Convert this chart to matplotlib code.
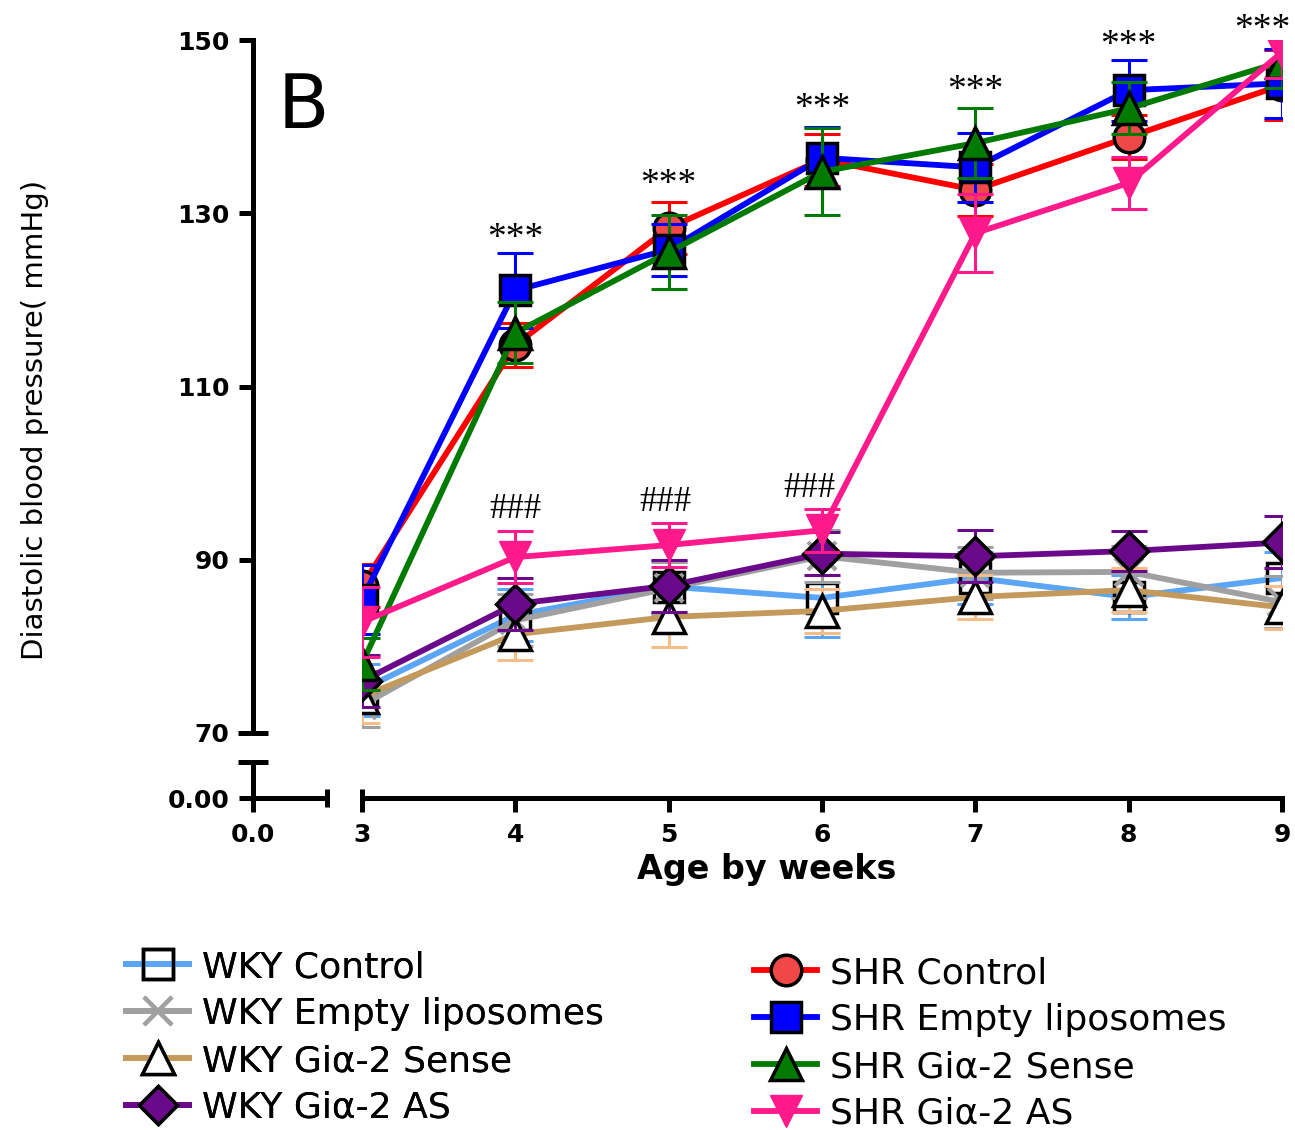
import matplotlib
matplotlib.use("Agg")
import matplotlib.pyplot as plt
from matplotlib.lines import Line2D

# Data
weeks = [3, 4, 5, 6, 7, 8, 9]

wky_control = [75.0, 83.6, 86.9, 85.6, 87.9, 85.7, 87.9]
wky_control_sem = [3.0, 3.0, 3.0, 4.5, 3.0, 2.5, 3.0]
wky_empty = [73.2, 83.0, 86.7, 90.4, 88.5, 88.6, 85.1]
wky_empty_sem = [2.5, 3.0, 3.0, 3.0, 3.0, 3.0, 3.0]
wky_sense = [74.2, 81.4, 83.4, 84.1, 85.7, 86.5, 84.5]
wky_sense_sem = [3.0, 3.0, 3.5, 2.5, 2.5, 2.5, 2.5]
wky_as = [76.0, 84.9, 87.0, 90.7, 90.4, 91.0, 92.0]
wky_as_sem = [3.0, 3.0, 3.0, 2.5, 3.0, 2.3, 3.0]

shr_control = [87.0, 114.8, 128.3, 136.2, 132.7, 138.8, 144.8]
shr_control_sem = [2.5, 2.5, 3.0, 3.0, 3.0, 2.5, 4.0]
shr_empty = [85.4, 121.1, 125.8, 136.4, 135.3, 144.2, 145.0]
shr_empty_sem = [4.0, 4.3, 3.0, 3.5, 4.0, 3.5, 4.0]
shr_sense = [78.0, 116.2, 125.5, 134.8, 138.1, 142.1, 147.5]
shr_sense_sem = [3.0, 3.5, 4.3, 5.0, 4.0, 3.0, 3.0]
shr_as = [82.8, 90.3, 91.7, 93.4, 127.7, 133.5, 148.6]
shr_as_sem = [4.0, 3.0, 2.5, 2.5, 4.5, 3.0, 3.0]

star_weeks = [4, 5, 6, 7, 8, 8.87]
star_y = [127.0, 133.3, 142.1, 144.1, 149.3, 151.2]
hash_weeks = [4, 4.98, 5.92]
hash_y = [95.8, 96.6, 98.2]

W, H = 1295, 1130


def px(x, y):
    return x / W, 1 - y / H


fig = plt.figure(figsize=(W / 100, H / 100), dpi=100)
ax = fig.add_axes([362 / W, 1 - 733 / H, (1282 - 362) / W, (733 - 40) / H])

series = [
    ("WKY Control", wky_control, wky_control_sem, "#5aa5f5", "#5aa5f5",
     dict(marker="s", ms=21, mfc="none", mec="k", mew=2.5)),
    ("WKY Empty liposomes", wky_empty, wky_empty_sem, "#a0a0a0", "#a0a0a0",
     dict(marker="x", ms=20, mec="#a0a0a0", mew=3)),
    ("WKY Gi\u03b1-2 Sense", wky_sense, wky_sense_sem, "#c49a5c", "#f7bd88",
     dict(marker="^", ms=23, mfc="white", mec="k", mew=2.5)),
    ("WKY Gi\u03b1-2 AS", wky_as, wky_as_sem, "#6a0a8a", "#6a0a8a",
     dict(marker="D", ms=19, mfc="#6a0a8a", mec="k", mew=2.5)),
    ("SHR Control", shr_control, shr_control_sem, "#ff0000", "#ff0000",
     dict(marker="o", ms=22, mfc="#f04848", mec="k", mew=2.5)),
    ("SHR Empty liposomes", shr_empty, shr_empty_sem, "#0000ff", "#0000ff",
     dict(marker="s", ms=21, mfc="#0000ff", mec="k", mew=2.5)),
    ("SHR Gi\u03b1-2 Sense", shr_sense, shr_sense_sem, "#007a00", "#007a00",
     dict(marker="^", ms=23, mfc="#007a00", mec="k", mew=2.5)),
    ("SHR Gi\u03b1-2 AS", shr_as, shr_as_sem, "#ff1a8c", "#ff1a8c",
     dict(marker="v", ms=23, mfc="#ff1a8c", mec="#ff1a8c", mew=1)),
]

handles = []
for i, (label, vals, sem, col, ecol, mk) in enumerate(series):
    ax.errorbar(weeks, vals, yerr=sem, fmt="none", ecolor=ecol, elinewidth=2.2,
                capsize=13, capthick=2.2, zorder=2 + i)
    h, = ax.plot(weeks, vals, color=col, lw=4.2, label=label, zorder=2 + i, **mk)
    handles.append(h)

ax.set_xlim(3, 9)
ax.set_ylim(70, 150)
ax.set_xticks(weeks)
ax.set_yticks([70, 90, 110, 130, 150])
for s in ["top", "right"]:
    ax.spines[s].set_visible(False)
ax.spines["left"].set_position(("outward", 109 * 0.72))
ax.spines["bottom"].set_position(("outward", 65 * 0.72))
for s in ["left", "bottom"]:
    ax.spines[s].set_linewidth(3.6)
ax.tick_params(axis="both", width=3.6, length=10, direction="out", labelsize=18)
ax.tick_params(axis="y", pad=7)
ax.tick_params(axis="x", pad=8)
for t in ax.get_xticklabels() + ax.get_yticklabels():
    t.set_fontweight("heavy")

# small stub of the broken axes near zero
ax2 = fig.add_axes([253 / W, 1 - 798 / H, (327 - 253) / W, (798 - 762) / H])
ax2.set_xlim(0, 1)
ax2.set_ylim(0, 1)
for s in ["top", "right"]:
    ax2.spines[s].set_visible(False)
for s in ["left", "bottom"]:
    ax2.spines[s].set_linewidth(3.6)
ax2.set_xticks([0])
ax2.set_xticklabels(["0.0"])
ax2.set_yticks([0])
ax2.set_yticklabels(["0.00"])
ax2.tick_params(axis="both", width=3.6, length=10, direction="out", labelsize=18)
ax2.tick_params(axis="y", pad=7)
ax2.tick_params(axis="x", pad=8)
for t in ax2.get_xticklabels() + ax2.get_yticklabels():
    t.set_fontweight("heavy")
ax2.patch.set_alpha(0)

# break caps
caps = [((238, 733), (268, 733)), ((238, 762), (268, 762)),
        ((327, 789), (327, 807)), ((362, 789), (362, 807))]
for (x0, y0), (x1, y1) in caps:
    a, b = px(x0, y0)
    c, d = px(x1, y1)
    fig.add_artist(Line2D([a, c], [b, d], transform=fig.transFigure,
                          color="k", lw=3.6, solid_capstyle="butt"))

for xw, yv in zip(star_weeks, star_y):
    ax.text(xw, yv, "***", ha="center", va="center", fontsize=27,
            family="Liberation Serif", clip_on=False)
for xw, yv in zip(hash_weeks, hash_y):
    ax.text(xw, yv, "###", ha="center", va="center", fontsize=25,
            family="Liberation Serif", clip_on=False)

fig.text(*px(303, 108), "B", ha="center", va="center", fontsize=54)
fig.text(*px(35, 420), "Diastolic blood pressure( mmHg)", rotation=90,
         ha="center", va="center", fontsize=21)
fig.text(*px(767, 870), "Age by weeks", ha="center", va="center",
         fontsize=24, fontweight="bold")

leg1 = fig.legend(handles=handles[:4], loc="upper left", bbox_to_anchor=px(126, 950),
                  frameon=False, fontsize=26, handlelength=1.75, handletextpad=0.35,
                  labelspacing=0.36, borderpad=0, borderaxespad=0)
fig.add_artist(leg1)
fig.legend(handles=handles[4:], loc="upper left", bbox_to_anchor=px(754, 956),
           frameon=False, fontsize=26, handlelength=1.75, handletextpad=0.35,
           labelspacing=0.36, borderpad=0, borderaxespad=0)

fig.savefig("out.png", dpi=100)
